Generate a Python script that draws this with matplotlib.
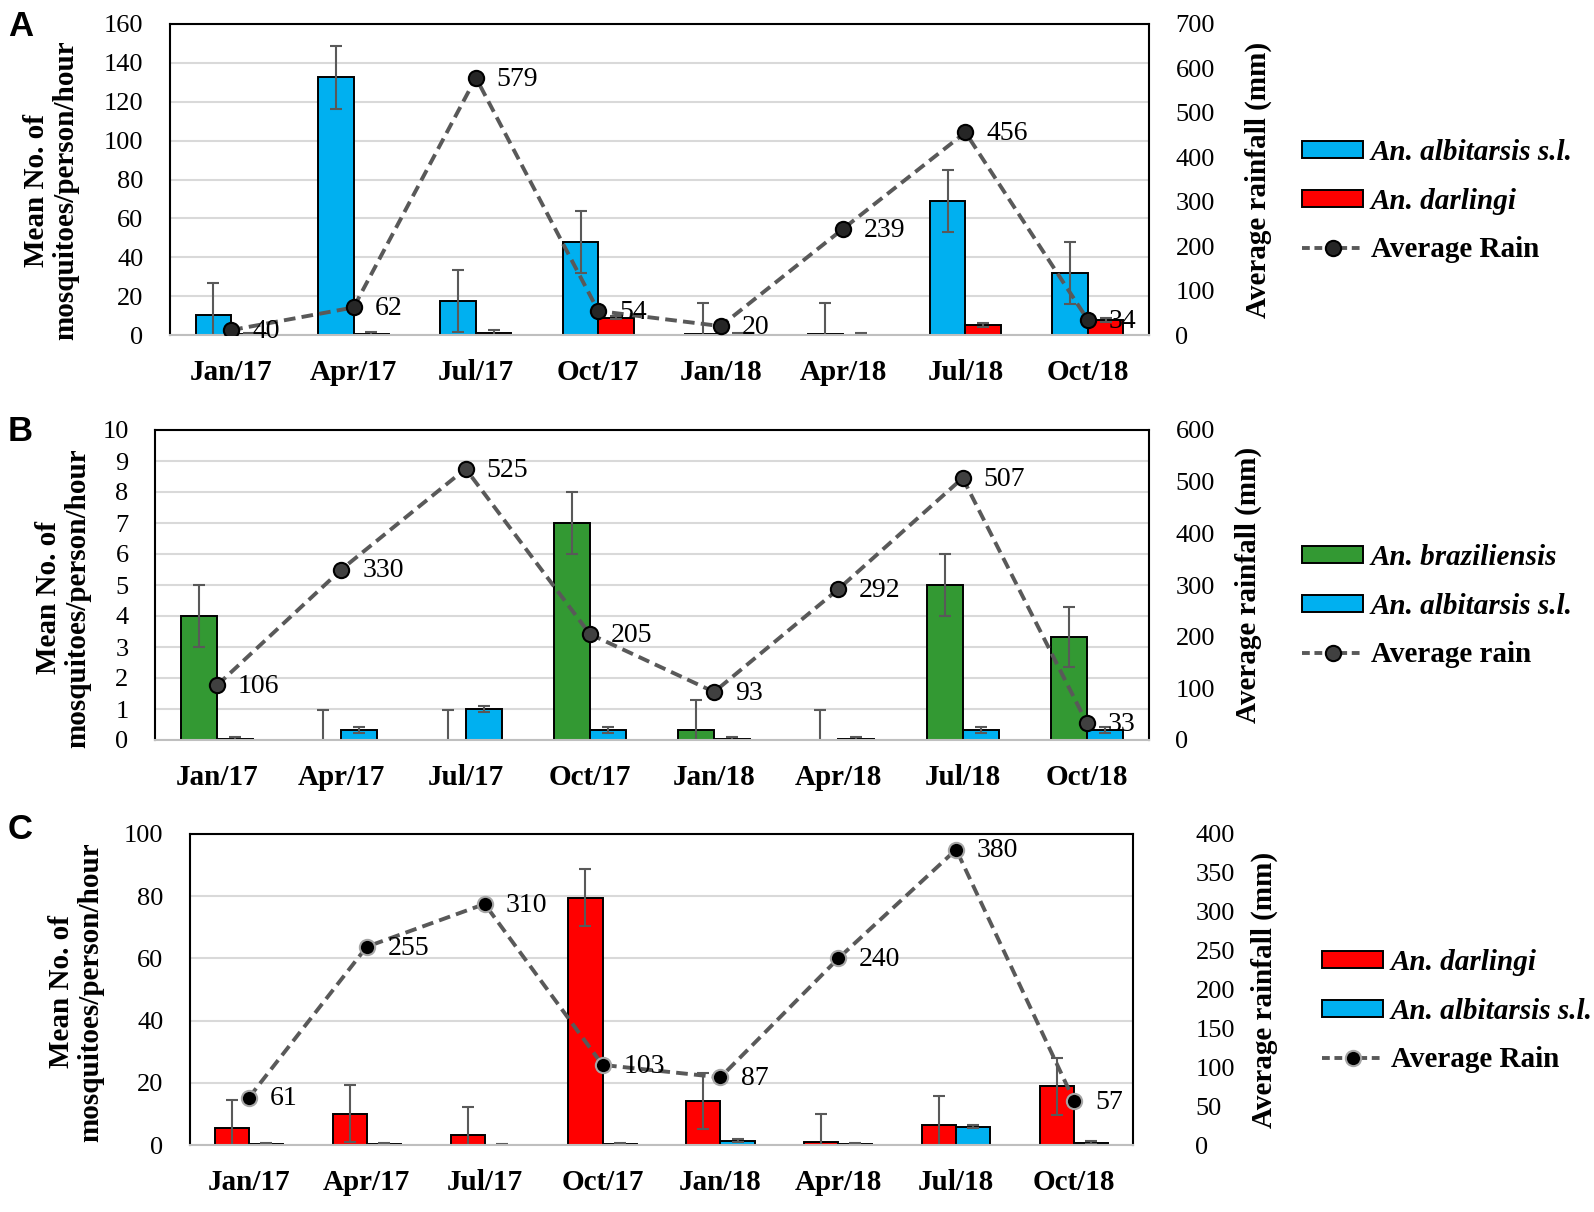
import matplotlib
matplotlib.use("Agg")
import matplotlib.pyplot as plt
from matplotlib.patches import Patch
from matplotlib.lines import Line2D
import numpy as np

plt.rcParams['font.family'] = ['Liberation Serif', 'DejaVu Serif']

W, H = 1594, 1212

months = ["Jan/17", "Apr/17", "Jul/17", "Oct/17", "Jan/18", "Apr/18", "Jul/18", "Oct/18"]

# panel A
a_albi = [10.5, 132.5, 17.5, 48, 0.5, 0.3, 69, 32]
a_albi_err = [16, 16, 16, 16, 16, 16, 16, 16]
a_darl = [0.3, 0.5, 1, 9, 0.2, 0.2, 5, 7.5]
a_darl_err = [0.8, 1, 1.5, 1, 0.6, 0.6, 1, 1]
a_rain = [11, 62, 579, 54, 20, 239, 456, 34]
a_rain_lbl = ["40", "62", "579", "54", "20", "239", "456", "34"]

# panel B
b_braz = [4.0, 0, 0, 7.0, 0.32, 0, 5.0, 3.33]
b_braz_err = [1, 0.97, 0.97, 1, 0.97, 0.97, 1, 0.97]
b_albi = [0.02, 0.33, 1.0, 0.33, 0.02, 0.02, 0.33, 0.33]
b_albi_err = [0.08, 0.1, 0.1, 0.1, 0.08, 0.08, 0.1, 0.1]
b_rain = [106, 330, 525, 205, 93, 292, 507, 33]
b_rain_lbl = [str(v) for v in b_rain]

# panel C
c_darl = [5.4, 10.1, 3.2, 79.5, 14.2, 0.9, 6.5, 18.9]
c_darl_err = [9, 9.1, 9, 9.1, 9, 9, 9.1, 9.1]
c_albi = [0.3, 0.3, 0.1, 0.3, 1.4, 0.3, 5.9, 0.8]
c_albi_err = [0.4, 0.4, 0.1, 0.4, 0.5, 0.3, 0.5, 0.4]
c_rain = [61, 255, 310, 103, 87, 240, 380, 57]
c_rain_lbl = [str(v) for v in c_rain]

BLUE = '#00B0F0'
RED = '#FF0000'
GREEN = '#339933'
GREY = '#595959'


def fx(px):
    return px / W


def fy(py):
    return 1 - py / H


fig = plt.figure(figsize=(W / 100, H / 100), dpi=100)


def panel(box, letter, letter_y, s1, e1, c1, n1, s2, e2, c2, n2, rain, rain_lbl,
          rain_name, ymax, ystep, rmax, rstep, rpad, mfc, mec,
          ylab_x, ylab_y, rlab_x, leg_x, leg_y):
    x0, y0, x1, y1 = box
    ax = fig.add_axes([fx(x0), fy(y1), fx(x1) - fx(x0), fy(y0) - fy(y1)])
    x = np.arange(len(months))
    bw = 0.29
    ekw = dict(ecolor=GREY, elinewidth=1.5, capsize=4, capthick=1.5)
    ax.bar(x - bw / 2, s1, bw, color=c1, edgecolor='black', linewidth=1.4,
           yerr=e1, error_kw=ekw, zorder=2)
    ax.bar(x + bw / 2, s2, bw, color=c2, edgecolor='black', linewidth=1.4,
           yerr=e2, error_kw=ekw, zorder=2)
    ax.set_xlim(-0.5, len(months) - 0.5)
    ax.set_ylim(0, ymax)
    ax.set_yticks(np.arange(0, ymax + ystep / 2, ystep))
    ax.set_xticks(x)
    ax.set_xticklabels(months, fontsize=21, fontweight='bold')
    ax.tick_params(axis='y', length=0, labelsize=19, pad=19)
    ax.tick_params(axis='x', length=0, pad=17)
    ax.yaxis.grid(True, color='#d9d9d9', linewidth=1.5)
    ax.set_axisbelow(True)
    for s in ['top', 'left', 'right']:
        ax.spines[s].set_linewidth(1.5)
        ax.spines[s].set_color('black')
    ax.spines['bottom'].set_color('#bfbfbf')
    ax.spines['bottom'].set_linewidth(1.5)

    # rainfall on the second axis
    ax2 = ax.twinx()
    ax2.plot(x, rain, color=GREY, linewidth=2.8, linestyle=(0, (3, 1.6)),
             marker='o', markersize=11, markerfacecolor=mfc, markeredgecolor=mec,
             markeredgewidth=1.5, zorder=3)
    for i in range(len(x)):
        ax2.annotate(rain_lbl[i], (x[i], rain[i]), xytext=(15, -1),
                     textcoords='offset points', ha='left', va='center',
                     fontsize=20)
    ax2.set_ylim(0, rmax)
    ax2.set_yticks(np.arange(0, rmax + rstep / 2, rstep))
    ax2.tick_params(axis='y', length=0, labelsize=19, pad=rpad)
    for s in ax2.spines.values():
        s.set_visible(False)

    fig.text(fx(ylab_x), fy(ylab_y), "Mean No. of\nmosquitoes/person/hour",
             rotation=90, ha='center', va='center', fontsize=21,
             fontweight='bold', linespacing=1.1)
    fig.text(fx(rlab_x), fy((y0 + y1) / 2), "Average rainfall (mm)", rotation=90,
             ha='center', va='center', fontsize=21, fontweight='bold')
    fig.text(fx(8), fy(letter_y), letter, ha='left', va='top', fontsize=25,
             fontweight='bold', family='Liberation Sans')

    handles = [Patch(facecolor=c1, edgecolor='black', linewidth=1.4),
               Patch(facecolor=c2, edgecolor='black', linewidth=1.4),
               Line2D([], [], color=GREY, linewidth=2.8, linestyle=(0, (2, 1.2)),
                      marker='o', markersize=11, markerfacecolor=mfc,
                      markeredgecolor=mec, markeredgewidth=1.5)]
    leg = fig.legend(handles, [n1, n2, rain_name], loc='upper left',
                     bbox_to_anchor=(fx(leg_x), fy(leg_y)), frameon=False,
                     prop=dict(size=21, weight='bold'), handlelength=2.1,
                     handleheight=0.5, handletextpad=0.25, labelspacing=0.74,
                     borderpad=0, borderaxespad=0)
    for t in leg.get_texts()[:2]:
        t.set_style('italic')
    return ax


panel((170, 24, 1149, 335), "A", 10,
      a_albi, a_albi_err, BLUE, "An. albitarsis s.l.",
      a_darl, a_darl_err, RED, "An. darlingi",
      a_rain, a_rain_lbl, "Average Rain",
      160, 20, 700, 100, 19, '#262626', 'black', 51, 190, 1258, 1302, 139)

panel((155, 430, 1149, 740), "B", 415,
      b_braz, b_braz_err, GREEN, "An. braziliensis",
      b_albi, b_albi_err, BLUE, "An. albitarsis s.l.",
      b_rain, b_rain_lbl, "Average rain",
      10, 1, 600, 100, 19, '#404040', 'black', 63, 598, 1248, 1302, 544)

panel((190, 834, 1133, 1145), "C", 813,
      c_darl, c_darl_err, RED, "An. darlingi",
      c_albi, c_albi_err, BLUE, "An. albitarsis s.l.",
      c_rain, c_rain_lbl, "Average Rain",
      100, 20, 400, 50, 45, 'black', '#a6a6a6', 76, 992, 1264, 1322, 949)

fig.savefig("out.png", dpi=100)
